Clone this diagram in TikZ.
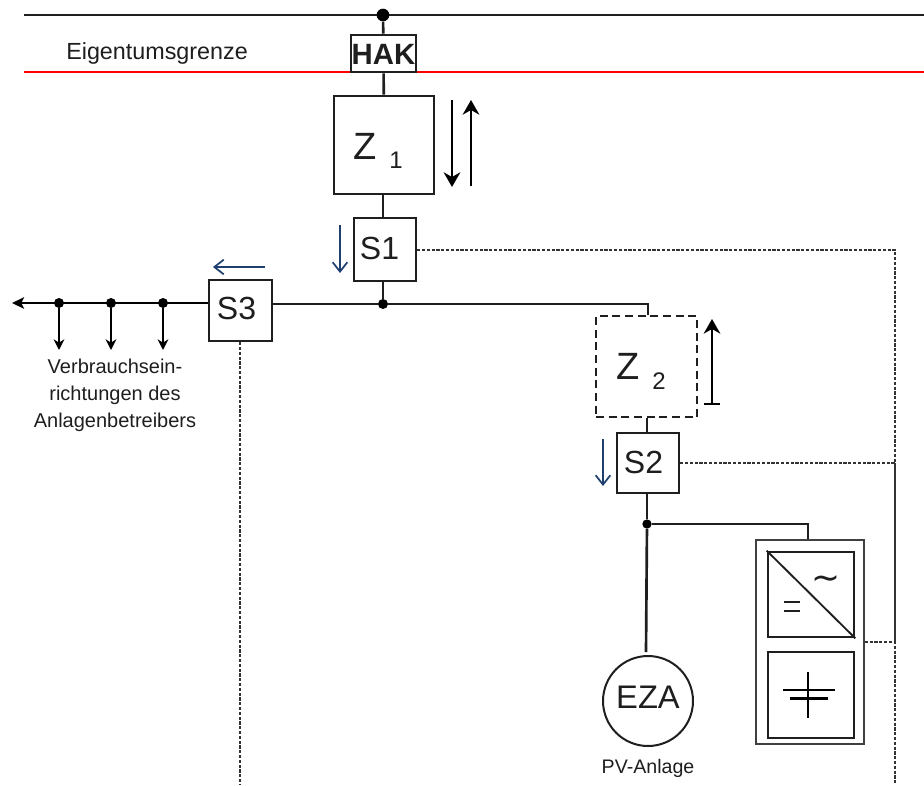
\documentclass[tikz,border=0pt]{standalone}
\usepackage{fontspec}
\setmainfont{Liberation Sans}
\usetikzlibrary{arrows.meta}
\definecolor{txt}{HTML}{1E1E1E}
\definecolor{bluearrow}{HTML}{1F3F6E}
\tikzset{
  x=0.75pt,y=-0.75pt,
  wire/.style={line width=2pt,draw=black!88},
  boxn/.style={draw=black!88,line width=1.9pt,inner sep=0pt,fill=white},
  ctrl/.style={line width=0.9pt,draw=black!80,dash pattern=on 2.4pt off 1.2pt},
  junction/.style={circle,fill=black,inner sep=0pt,minimum size=7.5pt},
  blk/.style={line width=1.6pt,draw=black,-{Stealth[length=11pt,width=12.5pt,inset=3.5pt]}},
  blu/.style={line width=1.3pt,draw=bluearrow,-{Straight Barb[length=7pt,width=11pt]}},
  small/.style={-{Stealth[length=8pt,width=8pt,inset=2.5pt]},line width=1.4pt,draw=black},
  lbl/.style={text=txt,inner sep=0pt,align=center},
  slbl/.style={lbl,font=\fontsize{24}{24}\selectfont},
}
\begin{document}
\begin{tikzpicture}
\useasboundingbox (0,0) rectangle (924,785);
% main rails
\coordinate (railTL) at (24,15); \coordinate (railTR) at (924,15);
\coordinate (redL) at (24,72); \coordinate (redR) at (924,72);
\draw[wire] (railTL) -- (railTR);
\draw[line width=1.5pt,draw=red] (redL) -- (redR);
% nodes
\node[junction,minimum size=9.5pt] (jTop) at (383,15) {};
\node[boxn,minimum width=65pt*0.75,minimum height=37pt*0.75] (hak) at (383.5,53.5) {};
\node[lbl,font=\bfseries\fontsize{22}{22}\selectfont] (hakt) at (383.5,54) {HAK};
\node[boxn,minimum width=100pt*0.75,minimum height=98pt*0.75] (z1) at (384,145) {};
\node[lbl,anchor=base west] (z1t) at (353,159) {\fontsize{28.5}{28.5}\selectfont Z};
\node[lbl,anchor=base west] (z1s) at (389,168) {\fontsize{18}{18}\selectfont 1};
\node[boxn,minimum width=62pt*0.75,minimum height=63pt*0.75] (s1) at (385,249.5) {};
\node[slbl] (s1t) at (379.5,248) {S1};
\node[junction] (jMid) at (383,304) {};
\node[boxn,minimum width=63pt*0.75,minimum height=61pt*0.75] (s3) at (240.5,310.5) {};
\node[slbl] (s3t) at (236.5,308.5) {S3};
\node[boxn,dash pattern=on 6pt off 3.5pt,fill=none,minimum width=101pt*0.75,minimum height=101pt*0.75] (z2) at (646.5,366.5) {};
\node[lbl,anchor=base west] (z2t) at (616,379) {\fontsize{28.5}{28.5}\selectfont Z};
\node[lbl,anchor=base west] (z2s) at (652,389) {\fontsize{18}{18}\selectfont 2};
\node[boxn,minimum width=62pt*0.75,minimum height=60pt*0.75] (s2) at (648,463) {};
\node[slbl] (s2t) at (643.5,462) {S2};
\node[junction,minimum size=7pt] (jLow) at (647,524) {};
\node[circle,draw=black!88,line width=1.5pt,minimum size=90pt*0.75,inner sep=0pt] (eza) at (648,701) {};
\node[lbl] (ezat) at (648,697.5) {\fontsize{24.5}{24.5}\selectfont EZA};
\node[lbl] (pv) at (648,768) {\fontsize{14.7}{14.7}\selectfont PV-Anlage};
\node[draw=black!75,line width=1.2pt,minimum width=108pt*0.75,minimum height=204pt*0.75,inner sep=0pt] (outer) at (810,642) {};
\node[boxn,minimum width=86pt*0.75,minimum height=85pt*0.75] (inv) at (811,594.5) {};
\node[boxn,minimum width=86pt*0.75,minimum height=86pt*0.75] (bat) at (811,695) {};
% wires
\draw[wire] (jTop) -- (hak);
\draw[wire] (hak) -- (z1);
\draw[wire] (z1.south -| jMid) -- (s1.north -| jMid);
\draw[wire] (s1.south -| jMid) -- (jMid);
\draw[wire] (s3.east |- jMid) -- (jMid);
\coordinate (z2in) at (648,304);
\draw[wire] (jMid) -- (z2in) -- (z2in |- z2.north);
\draw[wire] (z2.south -| jLow) -- (s2.north -| jLow);
\draw[wire] (s2.south -| jLow) -- (jLow);
\coordinate (ezaTop) at (646,652);
\draw[wire] (jLow) -- (ezaTop);
\coordinate (outTop) at (808,524);
\draw[wire] (jLow) -- (outTop) -- (outTop |- outer.north);
% load bus
\coordinate (busEnd) at (12,303);
\draw[line width=1.8pt,draw=black,-{Stealth[length=9pt,width=8.5pt,inset=2pt]}] (s3.west |- busEnd) -- (busEnd);
\foreach \n/\x in {la/59,lb/111,lc/163}{
  \node[junction] (\n) at (\x,303) {};
  \coordinate (\n e) at (\x,350);
  \draw[small] (\n) -- (\n e);
}
\node[lbl,anchor=north,font=\fontsize{15}{20}\selectfont] (verb) at (115,359) {Verbrauchsein-\\richtungen des\\Anlagenbetreibers};
% control lines
\coordinate (cTop) at (895,250); \coordinate (cMid) at (895,463); \coordinate (cBox) at (895,642); \coordinate (cEnd) at (895,785); \coordinate (c3End) at (240,785);
\draw[ctrl] (s1.east |- cTop) -- (cTop) -- (cEnd);
\draw[ctrl] (s2.east |- cMid) -- (cMid);
\draw[ctrl] (outer.east |- cBox) -- (cBox);
\draw[line width=0.9pt,draw=black!80] (cMid) -- (cBox);
\draw[ctrl] (s3.south -| c3End) -- (c3End);
% flow arrows
\coordinate (a1) at (452,100); \coordinate (a2) at (452,187);
\coordinate (b1) at (471,186); \coordinate (b2) at (471,100);
\draw[blk] (a1) -- (a2);
\draw[blk] (b1) -- (b2);
\coordinate (c1) at (712,405); \coordinate (c2) at (712,319);
\draw[blk,{Bar[width=12pt]}-{Stealth[length=11pt,width=12.5pt,inset=3.5pt]}] (c1) -- (c2);
\coordinate (d1) at (340,225); \coordinate (d2) at (340,273);
\draw[blu] (d1) -- (d2);
\coordinate (e1) at (603,439); \coordinate (e2) at (603,486);
\draw[blu] (e1) -- (e2);
\coordinate (f1) at (265,267); \coordinate (f2) at (213,267);
\draw[blu] (f1) -- (f2);
% inverter
\draw[line width=1.4pt,draw=black!88] (inv.north west) -- (inv.south east);
\node[lbl] (ac) at (826.5,583) {\fontsize{26}{26}\selectfont\fontspec{DejaVu Sans}\char"223C};
\draw[line width=1.5pt,draw=black!88] (784,602) -- (800,602) (784,611) -- (800,611);
% battery symbol
\draw[line width=1.6pt,draw=black] (808,672) -- (808,718);
\draw[line width=1.9pt,draw=black] (783,690) -- (835,690);
\draw[line width=2.5pt,draw=black] (790,698.5) -- (828,698.5);
% boundary label
\node[lbl,anchor=west] (eig) at (66,53) {\fontsize{17.5}{17.5}\selectfont Eigentumsgrenze};
\end{tikzpicture}
\end{document}
